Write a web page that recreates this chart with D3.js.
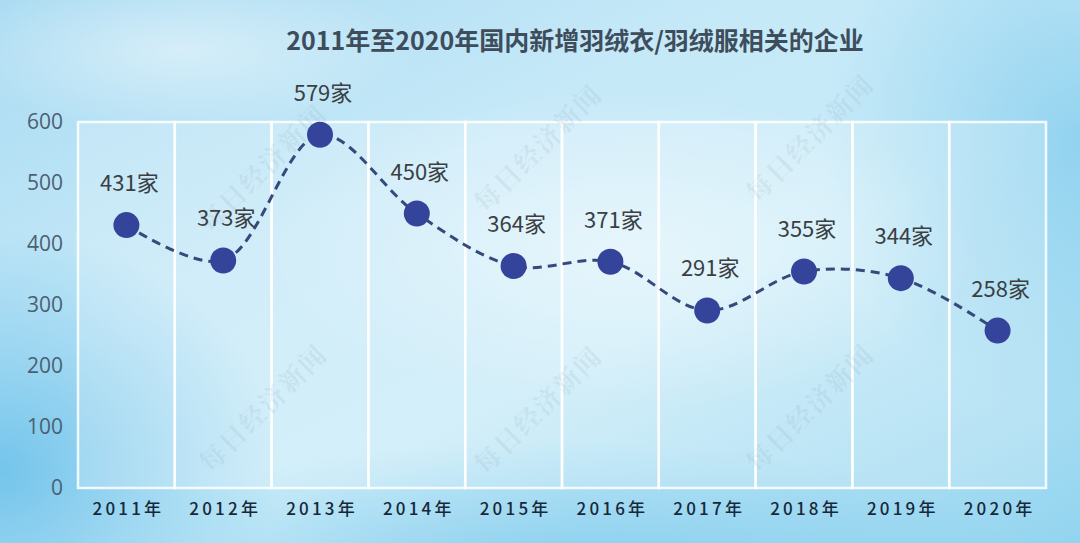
<!DOCTYPE html>
<html><head><meta charset="utf-8">
<script src="https://cdn.jsdelivr.net/npm/d3@7"></script>
<style>body{margin:0;overflow:hidden}svg{display:block}</style>
</head><body><svg id="c" width="1080" height="543"></svg>
<script>
const title = "2011年至2020年国内新增羽绒衣/羽绒服相关的企业";
const categories = ["2011年","2012年","2013年","2014年","2015年","2016年","2017年","2018年","2019年","2020年"];
const values = [431,373,579,450,364,371,291,355,344,258];
const yTicks = [0,100,200,300,400,500,600];
const unit = "家";
const watermark = "每日经济新闻";

const W=1080,H=543, m={left:78,right:34,top:122,bottom:55};
const svg=d3.select("#c");
const defs=svg.append("defs");
const lg=defs.append("linearGradient").attr("id","bg").attr("x1",0).attr("y1",0).attr("x2",1).attr("y2",1);
[[0,"#a9dbf2"],[0.35,"#c6e9f8"],[0.6,"#c8ebf8"],[1,"#93d4ef"]].forEach(s=>lg.append("stop").attr("offset",s[0]).attr("stop-color",s[1]));
function rg(id,c,o){const g=defs.append("radialGradient").attr("id",id);g.append("stop").attr("offset",0).attr("stop-color",c).attr("stop-opacity",o);g.append("stop").attr("offset",1).attr("stop-color",c).attr("stop-opacity",0);}
rg("b1","#5fbbe8",0.8);rg("b2","#ffffff",0.45);rg("b3","#76c6eb",0.65);
svg.append("rect").attr("width",W).attr("height",H).attr("fill","url(#bg)");
svg.append("ellipse").attr("cx",0).attr("cy",470).attr("rx",280).attr("ry",240).attr("fill","url(#b1)");
svg.append("ellipse").attr("cx",1080).attr("cy",140).attr("rx",260).attr("ry",280).attr("fill","url(#b3)");
svg.append("ellipse").attr("cx",560).attr("cy",570).attr("rx",460).attr("ry",130).attr("fill","url(#b3)");
svg.append("ellipse").attr("cx",620).attr("cy",250).attr("rx",360).attr("ry",160).attr("fill","url(#b2)");
svg.append("ellipse").attr("cx",180).attr("cy",50).attr("rx",240).attr("ry",80).attr("fill","url(#b2)");

const x=d3.scaleBand().domain(categories).range([m.left,W-m.right]).padding(0);
const y=d3.scaleLinear().domain([0,600]).range([H-m.bottom,m.top]);

// columns
const g=svg.append("g");
g.selectAll("rect.col").data(categories).join("rect").attr("class","col")
 .attr("x",d=>x(d)).attr("y",y(600)).attr("width",x.bandwidth()).attr("height",y(0)-y(600))
 .attr("fill","#ffffff").attr("fill-opacity",0.2).attr("stroke","#ffffff").attr("stroke-opacity",0.85).attr("stroke-width",2.5);

// watermarks
const wm=[[265,170],[540,150],[812,140],[265,410],[540,412],[812,410]];
svg.append("g").selectAll("text").data(wm).join("text")
 .attr("transform",d=>`translate(${d[0]},${d[1]}) rotate(-45)`)
 .attr("text-anchor","middle").attr("dominant-baseline","middle")
 .attr("font-family","'Noto Serif CJK SC','Noto Sans CJK SC',serif").attr("font-weight","bold").attr("font-size",26)
 .attr("fill","#8aa6b4").attr("fill-opacity",0.16).attr("letter-spacing",2).text(watermark);

// y axis labels
const ya=svg.append("g").attr("transform",`translate(${m.left-15},0)`).call(d3.axisLeft(y).tickValues(yTicks).tickSize(0).tickPadding(0));
ya.select(".domain").remove();
ya.selectAll("text").attr("font-family","'Open Sans','Noto Sans',sans-serif").attr("font-size",21).attr("fill","#4c6070");

// x axis labels
const xa=svg.append("g").attr("transform",`translate(2,${y(0)+12})`).call(d3.axisBottom(x).tickSize(0).tickPadding(0));
xa.select(".domain").remove();
xa.selectAll("text").attr("font-family","'Noto Sans CJK SC',sans-serif").attr("font-size",17).attr("font-weight",500)
 .attr("fill","#17283a").attr("letter-spacing",3.2).attr("dy","0.9em");

// title
svg.append("text").attr("x",575).attr("y",50).attr("text-anchor","middle")
 .attr("font-family","'Noto Sans CJK SC',sans-serif").attr("font-weight","bold").attr("font-size",25)
 .attr("fill","#3e4d5c").text(title);

// line
const cx=d=>x(d)+x.bandwidth()/2;
const line=d3.line().x((d,i)=>cx(categories[i])).y(d=>y(d)).curve(d3.curveCatmullRom.alpha(0.5));
svg.append("path").attr("d",line(values)).attr("fill","none").attr("stroke","#36497c").attr("stroke-width",3).attr("stroke-dasharray","9,6");

svg.append("g").selectAll("circle").data(values).join("circle")
 .attr("cx",(d,i)=>cx(categories[i])).attr("cy",d=>y(d)).attr("r",13).attr("fill","#34449a");

svg.append("g").selectAll("text").data(values).join("text")
 .attr("x",(d,i)=>cx(categories[i])+3).attr("y",d=>y(d)-34)
 .attr("text-anchor","middle").attr("font-family","'Noto Sans CJK SC',sans-serif").attr("font-size",22)
 .attr("fill","#3a3f44").text(d=>d+unit);
</script></body></html>
